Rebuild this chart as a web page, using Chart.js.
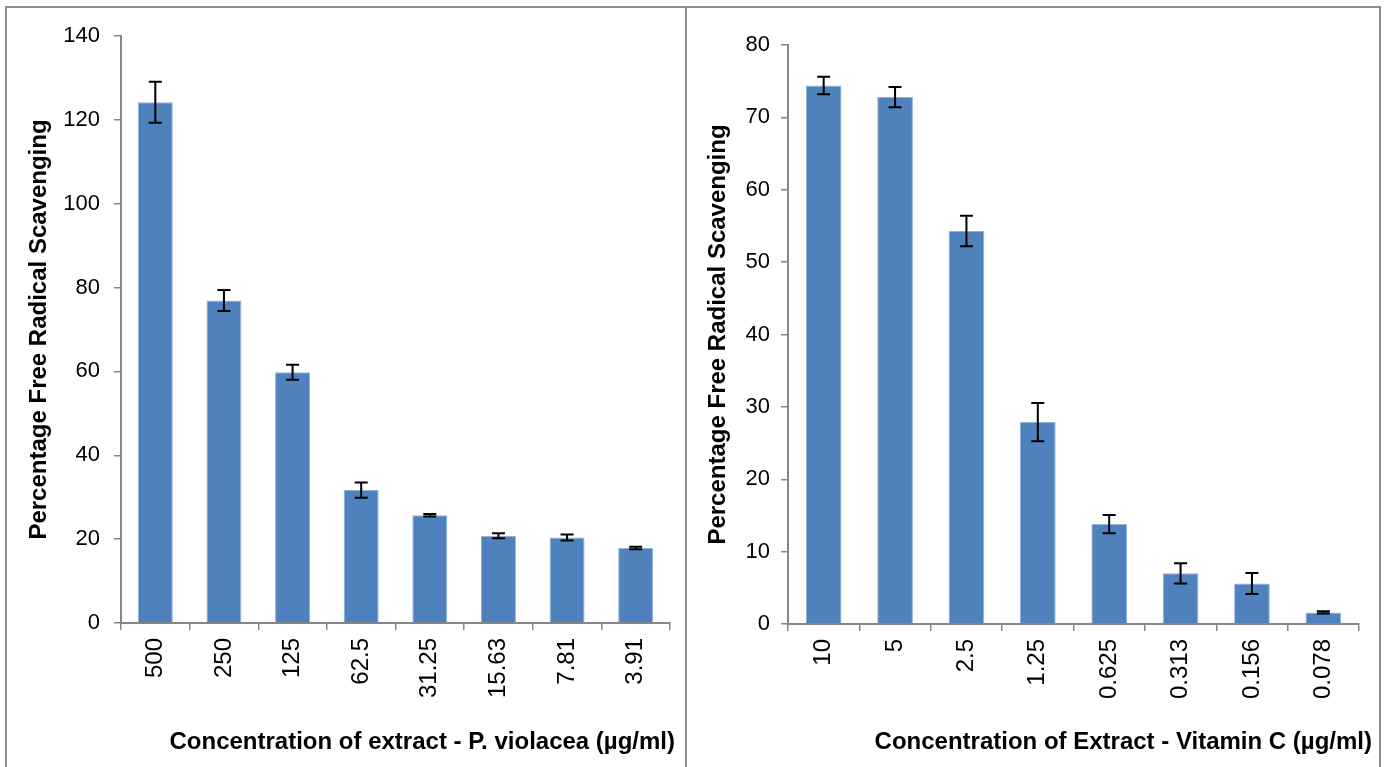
<!DOCTYPE html>
<html>
<head>
<meta charset="utf-8">
<script src="https://cdn.jsdelivr.net/npm/chart.js@4.4.1/dist/chart.umd.min.js"></script>
<style>
  html, body { margin: 0; padding: 0; background: #fff; overflow: hidden; }
  #page { position: relative; width: 1391px; height: 767px; overflow: hidden; }
  canvas { position: absolute; top: 0; }
  .frame { position: absolute; top: 6px; height: 800px; border: 2px solid #8e8e8e; box-sizing: border-box; pointer-events: none; }
</style>
</head>
<body>
<div id="page">
  <canvas id="leftChart" width="685" height="767" style="left:0"></canvas>
  <canvas id="rightChart" width="706" height="767" style="left:685px"></canvas>
  <div class="frame" style="left:5px; width:682px;"></div>
  <div class="frame" style="left:685px; width:696px;"></div>
</div>
<script>
// P. violacea extract
const leftCategories = ['500', '250', '125', '62.5', '31.25', '15.63', '7.81', '3.91'];
const leftValues = [124.2, 76.9, 59.8, 31.7, 25.7, 20.8, 20.4, 17.9];
const leftErrors = [4.9, 2.5, 1.8, 1.8, 0.3, 0.6, 0.7, 0.3];
const leftMax = 140;
const leftStep = 20;

// Vitamin C standard
const rightCategories = ['10', '5', '2.5', '1.25', '0.625', '0.313', '0.156', '0.078'];
const rightValues = [74.4, 72.8, 54.3, 27.9, 13.8, 7.0, 5.6, 1.6];
const rightErrors = [1.2, 1.4, 2.1, 2.65, 1.25, 1.4, 1.45, 0.15];
const rightMax = 80;
const rightStep = 10;

const yTitle = 'Percentage Free Radical Scavenging';
const leftXTitle = 'Concentration of extract - P. violacea (µg/ml)';
const rightXTitle = 'Concentration of Extract - Vitamin C (µg/ml)';

const BAR = '#4F81BD';
const AXIS = '#868686';
const FONT = '"Liberation Sans", Arial, sans-serif';

// draws +/- error whiskers on top of each bar
const errorBars = {
  id: 'errorBars',
  afterDatasetsDraw(chart) {
    const ctx = chart.ctx;
    const yScale = chart.scales.y;
    chart.data.datasets.forEach((ds, i) => {
      const meta = chart.getDatasetMeta(i);
      meta.data.forEach((bar, j) => {
        const v = ds.data[j];
        const e = ds.errors[j];
        const yTop = yScale.getPixelForValue(v + e);
        const yBot = yScale.getPixelForValue(v - e);
        const half = 6.5;
        ctx.save();
        ctx.strokeStyle = '#000';
        ctx.lineWidth = 2;
        ctx.beginPath();
        ctx.moveTo(bar.x, yTop); ctx.lineTo(bar.x, yBot);
        ctx.moveTo(bar.x - half, yTop); ctx.lineTo(bar.x + half, yTop);
        ctx.moveTo(bar.x - half, yBot); ctx.lineTo(bar.x + half, yBot);
        ctx.stroke();
        ctx.restore();
      });
    });
  }
};

// x-axis caption, right-aligned a little past the end of the axis
const xCaption = {
  id: 'xCaption',
  afterDraw(chart, args, opts) {
    const ctx = chart.ctx;
    ctx.save();
    ctx.font = 'bold 24px ' + FONT;
    ctx.fillStyle = '#000';
    ctx.textAlign = 'right';
    ctx.textBaseline = 'middle';
    ctx.fillText(opts.text, chart.chartArea.right + opts.shift, opts.y);
    ctx.restore();
  }
};

function makeChart(id, cfg) {
  return new Chart(document.getElementById(id), {
    type: 'bar',
    data: {
      labels: cfg.categories,
      datasets: [{
        data: cfg.values,
        errors: cfg.errors,
        backgroundColor: BAR,
        borderColor: '#8fb0d8',
        borderWidth: 1,
        barPercentage: cfg.barPct,
        categoryPercentage: 1
      }]
    },
    options: {
      responsive: false,
      animation: false,
      devicePixelRatio: 1,
      layout: { padding: { left: 0, top: cfg.top, right: cfg.right, bottom: 0 } },
      plugins: {
        legend: { display: false },
        tooltip: { enabled: false },
        xCaption: { text: cfg.xTitle, shift: cfg.titleShift, y: 742 }
      },
      scales: {
        x: {
          offset: true,
          afterFit(s) { s.height = 767 - cfg.bottom; },
          grid: { offset: true, drawOnChartArea: false, drawTicks: true, tickLength: 7, color: AXIS, lineWidth: 1.5 },
          border: { color: AXIS, width: 2 },
          ticks: {
            autoSkip: false, minRotation: 90, maxRotation: 90, padding: 8,
            color: '#000', font: { family: FONT, size: 24 }
          }
        },
        y: {
          min: 0, max: cfg.max,
          afterFit(s) { s.width = cfg.left; },
          grid: { drawOnChartArea: false, drawTicks: true, tickLength: 7, color: AXIS, lineWidth: 1.5 },
          border: { color: AXIS, width: 2 },
          ticks: {
            stepSize: cfg.step, padding: cfg.tickPad,
            color: '#000', font: { family: FONT, size: 22 }
          },
          title: {
            display: true, text: yTitle,
            color: '#000', font: { family: FONT, size: 24, weight: 'bold' },
            padding: { top: cfg.titlePad, bottom: 0 }
          }
        }
      }
    },
    plugins: [errorBars, xCaption]
  });
}

makeChart('leftChart', {
  categories: leftCategories, values: leftValues, errors: leftErrors,
  max: leftMax, step: leftStep, xTitle: leftXTitle, titleShift: 5,
  left: 121, right: 15, top: 36, bottom: 623, barPct: 0.51, tickPad: 14, titlePad: 25
});

makeChart('rightChart', {
  categories: rightCategories, values: rightValues, errors: rightErrors,
  max: rightMax, step: rightStep, xTitle: rightXTitle, titleShift: 13,
  left: 103, right: 32, top: 45, bottom: 624, barPct: 0.5, tickPad: 11, titlePad: 19
});
</script>
</body>
</html>
